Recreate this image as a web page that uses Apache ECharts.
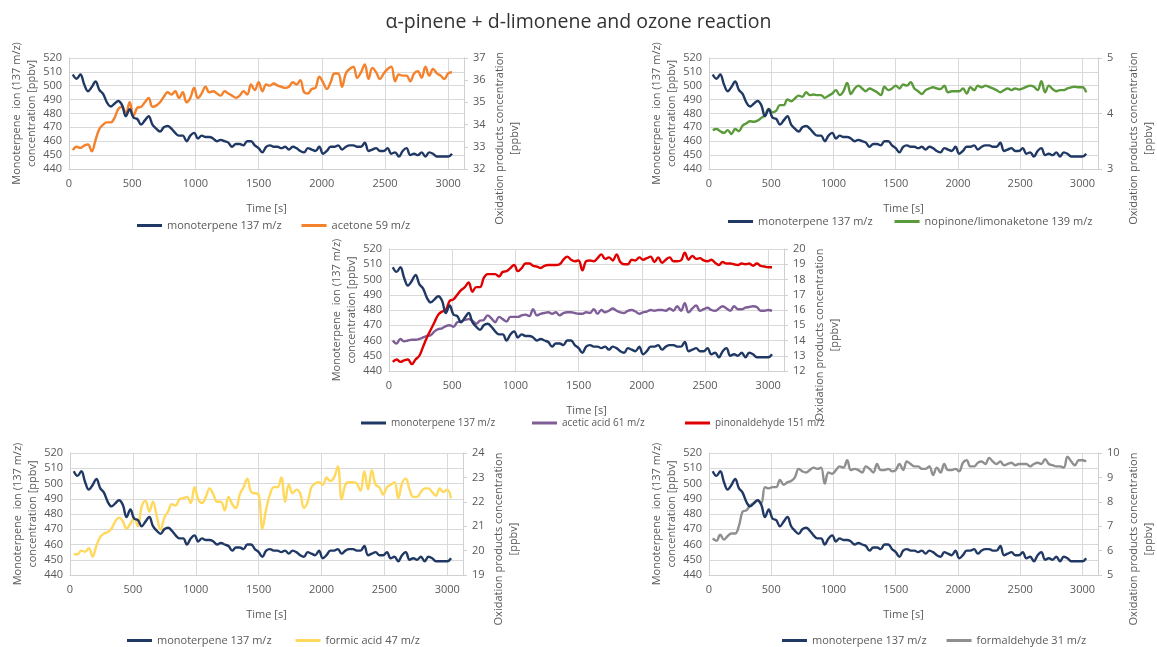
<!DOCTYPE html>
<html><head><meta charset="utf-8">
<script src="https://cdn.jsdelivr.net/npm/echarts@6/dist/echarts.min.js"></script>
<style>html,body{margin:0;padding:0;background:#fff}#c{width:1157px;height:647px}</style>
</head><body><div id="c"></div>
<script>
const TITLE = 'α-pinene + d-limonene and ozone reaction';
const T = [30,60,90,120,150,180,210,240,270,300,330,360,390,420,450,480,510,540,570,600,630,660,690,720,750,780,810,840,870,900,930,960,990,1020,1050,1080,1110,1140,1170,1200,1230,1260,1290,1320,1350,1380,1410,1440,1470,1500,1530,1560,1590,1620,1650,1680,1710,1740,1770,1800,1830,1860,1890,1920,1950,1980,2010,2040,2070,2100,2130,2160,2190,2220,2250,2280,2310,2340,2370,2400,2430,2460,2490,2520,2550,2580,2610,2640,2670,2700,2730,2760,2790,2820,2850,2880,2910,2940,2970,3000,3030];
const monoterpene = [508,505,508,501,496,499,503,497,494,488,485,487,489,486,478,483,477,476,472,475,478,472,469,467,470,471,469,466,464,464,460,464,466,462,464,463,463,462,460,461,460,459,456,458,458,457,460,460,457,455,452,456,457,456,456,455,456,454,456,455,453,452,455,454,453,456,451,453,456,456,457,454,456,457,457,456,456,459,453,454,455,453,453,455,451,452,449,453,455,450,451,450,452,449,452,451,449,449,449,449,451];
const acetone = [32.85,33.0,32.95,33.05,33.1,32.8,33.3,33.8,34.0,34.1,34.1,34.3,34.7,34.8,34.5,35.0,34.4,34.75,34.8,35.0,35.2,34.8,34.85,35.0,35.25,35.45,35.35,35.5,35.2,35.45,35.0,35.2,35.65,35.2,35.4,35.7,35.45,35.5,35.4,35.3,35.5,35.4,35.3,35.2,35.3,35.5,35.35,35.8,35.55,35.9,35.5,35.8,35.75,35.85,35.75,35.7,35.65,35.7,35.9,35.8,36.0,35.45,35.4,35.6,35.65,36.15,35.9,35.6,35.9,36.3,36.3,35.7,36.3,36.5,36.6,36.1,36.35,36.7,36.05,36.55,36.35,36.05,36.3,36.5,36.6,35.95,36.25,36.2,36.2,35.95,36.3,36.4,36.1,36.6,36.2,36.5,36.3,36.2,36.05,36.3,36.35];
const nopinone = [3.7,3.72,3.68,3.65,3.7,3.63,3.72,3.68,3.78,3.82,3.86,3.85,3.87,3.92,3.97,4.08,4.02,4.05,4.15,4.15,4.25,4.22,4.27,4.32,4.30,4.38,4.33,4.34,4.33,4.33,4.28,4.32,4.36,4.42,4.33,4.4,4.55,4.35,4.45,4.5,4.45,4.4,4.45,4.42,4.38,4.33,4.48,4.42,4.45,4.5,4.45,4.52,4.5,4.56,4.45,4.4,4.35,4.42,4.45,4.47,4.45,4.44,4.5,4.38,4.4,4.4,4.4,4.45,4.36,4.47,4.42,4.5,4.47,4.5,4.48,4.45,4.42,4.38,4.42,4.45,4.42,4.45,4.43,4.45,4.48,4.5,4.48,4.42,4.58,4.38,4.5,4.44,4.4,4.42,4.42,4.45,4.47,4.48,4.47,4.47,4.38];
const aceticAcid = [14.0,13.8,14.1,13.95,14.0,14.05,14.05,14.1,14.2,14.3,14.35,14.6,14.75,14.8,14.95,15.0,14.9,15.2,15.25,15.35,15.4,15.3,15.1,15.3,15.35,15.65,15.45,15.2,15.55,15.4,15.25,15.55,15.55,15.55,15.65,15.7,15.6,16.05,15.65,15.75,15.8,15.85,15.75,15.85,15.65,15.8,15.85,15.85,15.8,15.75,15.75,15.85,15.8,16.05,15.75,16.0,15.85,15.95,16.1,15.95,15.85,15.8,15.95,16.0,15.9,15.75,15.85,15.9,16.0,15.95,16.0,16.0,15.95,16.1,15.95,16.25,15.95,16.45,15.85,16.1,16.3,15.95,16.05,16.15,16.0,15.95,16.1,16.25,16.1,15.95,16.25,16.05,16.05,16.15,16.2,16.25,16.2,15.95,15.95,16.0,15.95];
const pinonaldehyde = [12.6,12.75,12.6,12.7,12.75,12.45,12.75,13.0,13.6,14.2,14.7,15.2,15.7,15.9,16.0,16.6,16.7,17.0,17.3,17.5,17.8,17.2,17.5,17.5,18.1,18.35,18.35,18.35,18.2,18.5,18.55,18.75,18.95,18.55,18.75,19.05,19.05,18.9,18.85,18.75,18.9,18.95,18.95,18.95,19.0,19.3,19.5,19.3,19.2,19.25,18.6,19.2,19.25,19.2,19.4,19.65,19.35,19.45,19.25,19.65,19.15,19.0,19.0,19.3,19.25,19.45,19.3,19.4,19.5,19.15,19.45,19.1,19.3,19.45,19.2,19.2,19.25,19.75,19.3,19.55,19.35,19.4,19.25,19.2,19.3,19.1,18.95,19.15,19.05,19.05,19.0,18.95,19.05,19.0,19.05,18.9,19.05,18.9,18.85,18.8,18.8];
const formicAcid = [19.85,19.85,20.0,19.95,20.1,19.75,20.2,20.55,20.7,20.75,20.9,21.2,21.35,21.2,20.9,21.1,21.35,21.0,21.8,22.05,21.6,22.0,21.4,20.85,21.35,21.6,21.9,21.85,22.1,22.15,22.2,21.95,22.6,22.1,21.95,22.2,22.55,22.3,22.0,22.0,21.65,22.2,21.9,21.75,22.3,22.6,22.95,22.4,22.35,22.3,20.9,21.7,22.3,22.6,22.6,23.0,22.0,22.7,22.35,22.5,22.35,21.75,22.0,22.6,22.75,22.8,22.7,23.0,22.85,23.0,23.45,22.1,22.7,22.8,22.8,22.75,22.45,23.25,22.5,23.3,22.7,22.6,22.3,22.6,22.7,22.8,22.15,22.75,22.95,22.5,22.2,22.2,22.4,22.55,22.55,22.4,22.25,22.55,22.4,22.5,22.15];
const formaldehyde = [6.5,6.4,6.65,6.45,6.6,6.7,6.7,7.0,7.6,7.65,7.85,7.95,8.05,7.95,8.6,8.55,8.6,8.6,8.9,8.7,8.8,8.85,9.0,9.35,9.25,9.2,9.3,9.4,9.35,9.4,8.75,9.2,9.15,9.3,9.45,9.4,9.7,9.3,9.35,9.3,9.2,9.45,9.35,9.2,9.55,9.3,9.3,9.35,9.25,9.3,9.55,9.3,9.65,9.55,9.45,9.45,9.35,9.35,9.45,9.1,9.4,9.2,9.55,9.3,9.3,9.35,9.25,9.6,9.7,9.45,9.45,9.6,9.65,9.55,9.8,9.65,9.55,9.65,9.5,9.55,9.6,9.5,9.55,9.55,9.55,9.45,9.55,9.6,9.55,9.75,9.55,9.5,9.45,9.45,9.4,9.85,9.65,9.5,9.7,9.7,9.65];

const MONO = 'monoterpene 137 m/z';
const leftName = 'Monoterpene  ion (137 m/z)\nconcentration [ppbv]';
const rightName = 'Oxidation products concentration\n[ppbv]';
const xName = 'Time [s]';
// panels: grid box, right-axis range, product series, legend placement
const panels = [
  {grid:{left:69,top:47,width:395,height:122}, rmin:32, rmax:37, prods:[['acetone 59 m/z',acetone,'#F5812B']],
   legends:[{left:132,top:215,gap:20}]},
  {grid:{left:709,top:47,width:403,height:122}, rmin:3, rmax:5, prods:[['nopinone/limonaketone 139 m/z',nopinone,'#5A9A3A']],
   legends:[{left:723,top:211,gap:22}]},
  {grid:{left:389,top:249,width:395,height:122}, rmin:12, rmax:20, prods:[['acetic acid 61 m/z',aceticAcid,'#7F5E97'],['pinonaldehyde 151 m/z',pinonaldehyde,'#E00000']],
   legends:[{left:356,top:413,idx:[0],fs:10},{left:527,top:413,idx:[1],fs:10},{left:680,top:413,idx:[2],fs:10}]},
  {grid:{left:70,top:453,width:393,height:122}, rmin:19, rmax:24, prods:[['formic acid 47 m/z',formicAcid,'#FFD95E']],
   legends:[{left:122,top:630,gap:24}]},
  {grid:{left:709,top:453,width:392,height:122}, rmin:5, rmax:10, prods:[['formaldehyde 31 m/z',formaldehyde,'#8F8F8F']],
   legends:[{left:777,top:630,gap:20}]}
];
const FONT = 'Open Sans';
const TXT = '#595959';
const pairs = v => T.map((t,i)=>[t,v[i]]);

const option = {
  animation:false,
  backgroundColor:'#fff',
  title:{text:TITLE,left:'center',top:7,textStyle:{fontFamily:FONT,fontSize:19.5,fontWeight:'normal',color:'#333'}},
  grid:[], xAxis:[], yAxis:[], series:[], legend:[]
};
panels.forEach((p,i)=>{
  option.grid.push(Object.assign({containLabel:false},p.grid));
  option.xAxis.push({type:'value',gridIndex:i,min:0,max:3125,interval:500,
    name:xName,nameLocation:'middle',nameGap:34,nameTextStyle:{fontFamily:FONT,fontSize:11,color:TXT},
    axisLabel:{fontFamily:FONT,fontSize:11,color:TXT,showMaxLabel:false,margin:9,formatter:v=>String(v)},
    axisLine:{show:true,lineStyle:{color:'#d0d0d0'}},axisTick:{show:false},
    splitLine:{show:true,lineStyle:{color:'#d9d9d9'}}});
  option.yAxis.push({type:'value',gridIndex:i,min:440,max:520,interval:10,position:'left',
    name:leftName,nameLocation:'middle',nameGap:28,nameTextStyle:{fontFamily:FONT,fontSize:11,color:TXT,lineHeight:15},
    axisLabel:{fontFamily:FONT,fontSize:11,color:TXT,margin:7},
    axisLine:{show:true,lineStyle:{color:'#d0d0d0'}},axisTick:{show:false},
    splitLine:{show:true,lineStyle:{color:'#d9d9d9'}}});
  option.yAxis.push({type:'value',gridIndex:i,min:p.rmin,max:p.rmax,interval:1,position:'right',
    name:rightName,nameLocation:'middle',nameGap:28,nameTextStyle:{fontFamily:FONT,fontSize:11,color:TXT,lineHeight:15,padding:[0,50,0,0]},
    axisLabel:{fontFamily:FONT,fontSize:11,color:TXT,margin:9},
    axisLine:{show:true,lineStyle:{color:'#d0d0d0'}},axisTick:{show:true,length:4,lineStyle:{color:'#d0d0d0'}},
    splitLine:{show:false}});
  const names=[MONO];
  option.series.push({name:MONO,type:'line',xAxisIndex:i,yAxisIndex:2*i,data:pairs(monoterpene),smooth:0.4,symbol:'none',
    lineStyle:{width:2.4,color:'#203864'},itemStyle:{color:'#203864'},z:3});
  p.prods.forEach(([nm,vals,col])=>{
    names.push(nm);
    option.series.push({name:nm,type:'line',xAxisIndex:i,yAxisIndex:2*i+1,data:pairs(vals),smooth:0.4,symbol:'none',
      lineStyle:{width:2.4,color:col},itemStyle:{color:col},z:2});
  });
  p.legends.forEach(lg=>{
    const d = lg.idx ? lg.idx.map(k=>names[k]) : names;
    option.legend.push({data:d,left:lg.left,top:lg.top,itemWidth:25,itemHeight:3,itemGap:lg.gap||20,
      textStyle:{fontFamily:FONT,fontSize:lg.fs||11,color:TXT},icon:'rect'});
  });
});
echarts.init(document.getElementById('c'),null,{renderer:'canvas'}).setOption(option);
</script></body></html>
